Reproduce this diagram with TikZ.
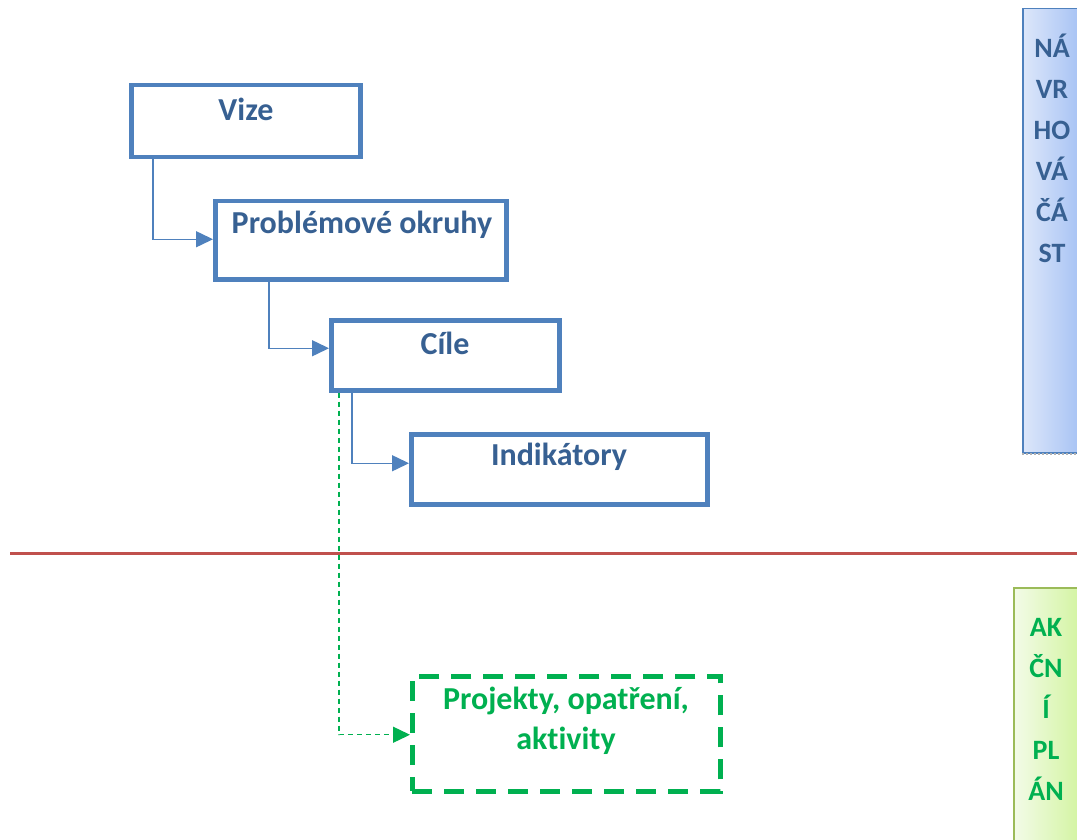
\documentclass[tikz,border=0pt]{standalone}
\usepackage{fontspec}
\setmainfont[RawFeature=-liga]{Carlito}
\usetikzlibrary{calc,arrows.meta,shadings}
\definecolor{boxblue}{HTML}{4F81BD}
\definecolor{txtblue}{HTML}{376092}
\definecolor{grn}{HTML}{00B050}
\definecolor{redline}{HTML}{C0504D}
\definecolor{grnborder}{HTML}{9BBB59}
\definecolor{blueL}{HTML}{DDE7FA}
\definecolor{blueR}{HTML}{A6C2F4}
\definecolor{grnL}{HTML}{F3FBE8}
\definecolor{grnR}{HTML}{D3F4A2}
\tikzset{
  box/.style={draw=boxblue, line width=4.5pt, fill=white, anchor=north west, inner sep=0pt},
  lbl/.style={font=\fontsize{32}{38}\selectfont\bfseries, text=txtblue},
  conn/.style={draw=boxblue, line width=1.5pt, -{Triangle[length=17pt,width=16pt]}},
  gconn/.style={draw=grn, line width=1.3pt, dash pattern=on 5pt off 4pt, -{Triangle[length=17pt,width=16pt]}},
  sidetxt/.style={font=\fontsize{28}{32}\selectfont\bfseries, align=center},
}
\begin{document}
\begin{tikzpicture}[x=1pt,y=-1pt]
\useasboundingbox (0,0) rectangle (1077,840);
% red separator
\draw[redline, line width=3pt] (10,553) -- (1077,553);
% right side boxes
\node[draw=boxblue, line width=1.5pt, left color=blueL, right color=blueR, minimum width=58, minimum height=444, anchor=north west, inner sep=0pt] (navrh) at (1022,8) {};
\draw[gray!60, line width=2pt, dotted] (navrh.south west) -- (navrh.south east);
\node[sidetxt, text=txtblue, anchor=north, text width=58] (navrhtxt) at (1052,30) {NÁ\\[9pt]VR\\[9pt]HO\\[9pt]VÁ\\[9pt]ČÁ\\[9pt]ST};
\node[draw=grnborder, line width=1.5pt, left color=grnL, right color=grnR, minimum width=66, minimum height=260, anchor=north west, inner sep=0pt] (akcni) at (1013,587) {};
\node[sidetxt, text=grn, anchor=north, text width=60] (akcnitxt) at (1046,615) {AK\\[9pt]ČN\\[9pt]Í\\[9pt]PL\\[9pt]ÁN};
% main boxes
\node[box, minimum width=229, minimum height=72] (vize) at (129,83) {};
\node[lbl] (vizet) at (246,109) {Vize};
\node[box, minimum width=291, minimum height=78] (prob) at (213,199) {};
\node[lbl] (probt) at (362,225) {Problémové okruhy};
\node[box, minimum width=228, minimum height=70] (cile) at (329,318) {};
\node[lbl] (cilet) at (445,343) {Cíle};
\node[box, minimum width=296, minimum height=70] (indik) at (409,432) {};
\node[lbl] (indikt) at (559,457) {Indikátory};
\node[draw=grn, line width=4.5pt, dash pattern=on 20pt off 12pt, fill=white, anchor=north west, inner sep=0pt, minimum width=308, minimum height=115] (proj) at (410,674) {};
\node[lbl, text=grn, align=center] (projt) at (566,721) {Projekty, opatření,\\[2pt]aktivity};
% connectors
\draw[conn] ([xshift=24pt]vize.south west) |- ([yshift=1pt]prob.west);
\draw[conn] ([xshift=56pt]prob.south west) |- ([yshift=7pt]cile.west);
\draw[conn] ([xshift=23pt]cile.south west) |- ([yshift=6pt]indik.west);
\draw[gconn] ([xshift=10pt]cile.south west) |- ([yshift=-1pt]proj.west);
\end{tikzpicture}
\end{document}
